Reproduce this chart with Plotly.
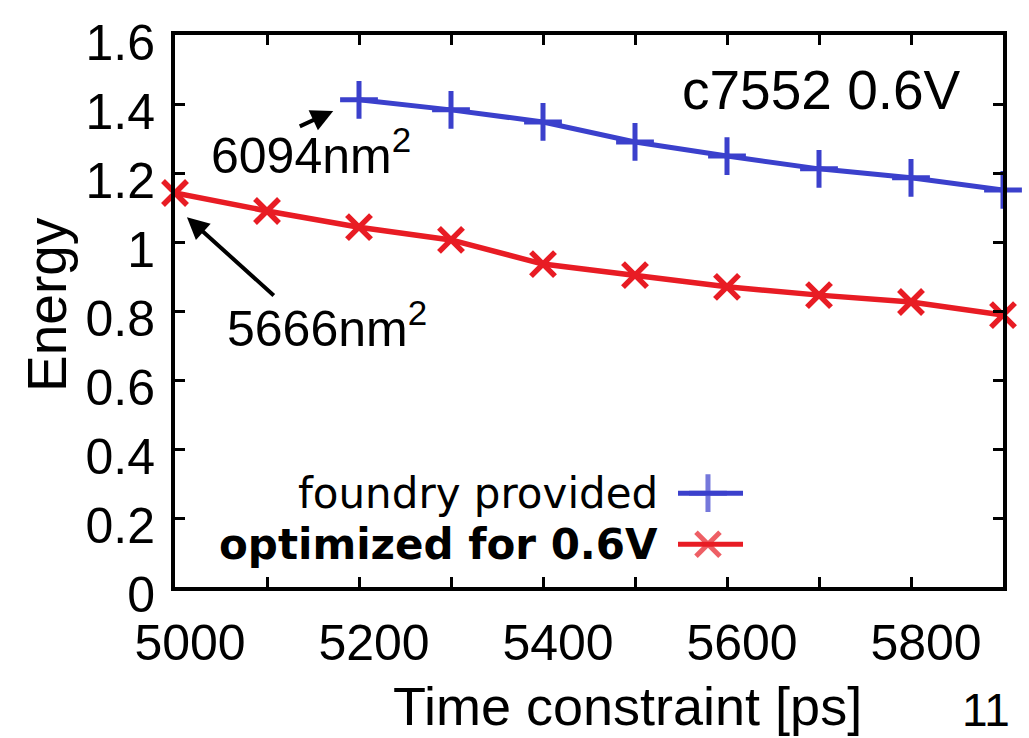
import plotly.graph_objects as go

# ---- data ----
time_foundry = [5200, 5300, 5400, 5500, 5600, 5700, 5800, 5900]
energy_foundry = [1.412, 1.383, 1.348, 1.290, 1.249, 1.212, 1.186, 1.151]
time_opt = [5000, 5100, 5200, 5300, 5400, 5500, 5600, 5700, 5800, 5900]
energy_opt = [1.142, 1.090, 1.043, 1.006, 0.936, 0.904, 0.870, 0.846, 0.826, 0.788]
series_names = ["foundry provided", "optimized for 0.6V"]
x_tickvals = [5000, 5100, 5200, 5300, 5400, 5500, 5600, 5700, 5800, 5900]
x_ticktext = ["5000", "", "5200", "", "5400", "", "5600", "", "5800", ""]
y_tickvals = [0, 0.2, 0.4, 0.6, 0.8, 1.0, 1.2, 1.4, 1.6]
y_ticktext = ["0", "0.2", "0.4", "0.6", "0.8", "1", "1.2", "1.4", "1.6"]
# annotation arrows: (head x, head y, tail x, tail y) and labels
area_labels = ["6094nm<sup>2</sup>", "5666nm<sup>2</sup>"]
arrow_heads = [(5172, 1.380), (5013, 1.072)]
arrow_tails = [(5134, 1.333), (5109, 0.841)]
label_pos = [(5037, 1.262), (5054, 0.759)]

BLUE = "#3b40cc"
RED = "#e81c24"
FONT = "Liberation Sans, Arial, sans-serif"
LEGFONT = "DejaVu Sans, Verdana, sans-serif"

fig = go.Figure()

fig.add_trace(go.Scatter(
    x=time_foundry, y=energy_foundry, mode="lines+markers", name=series_names[0],
    line=dict(color=BLUE, width=5),
    marker=dict(symbol="cross-thin", size=27, line=dict(color=BLUE, width=5)),
    cliponaxis=False, showlegend=False))
fig.add_trace(go.Scatter(
    x=time_opt, y=energy_opt, mode="lines+markers", name=series_names[1],
    line=dict(color=RED, width=5.5),
    marker=dict(symbol="x-thin", size=24, line=dict(color=RED, width=5.5)),
    cliponaxis=False, showlegend=False))

# legend samples on an auxiliary 0..1 axis pair
leg_x = [0.6075, 0.6437, 0.686]
for yy, col, sym, sz in [(0.170, BLUE, "cross-thin", 27), (0.0775, RED, "x-thin", 24)]:
    fig.add_trace(go.Scatter(
        x=leg_x, y=[yy] * 3, xaxis="x2", yaxis="y2", mode="lines+markers",
        line=dict(color=col, width=5),
        marker=dict(symbol=sym, size=[0, sz, 0], line=dict(color=col, width=5)),
        cliponaxis=False, showlegend=False, hoverinfo="skip"))

annotations = []
for txt, yy, bold in [(series_names[0], 0.170, False), (series_names[1], 0.0775, True)]:
    annotations.append(dict(
        x=0.5857, y=yy, xref="paper", yref="paper", xanchor="right", yanchor="middle",
        text=("<b>%s</b>" % txt) if bold else txt, showarrow=False,
        font=dict(family=LEGFONT, size=42, color="black")))

for (hx, hy), (tx, ty) in zip(arrow_heads, arrow_tails):
    annotations.append(dict(
        x=hx, y=hy, ax=tx, ay=ty, xref="x", yref="y", axref="x", ayref="y",
        text="", showarrow=True, arrowhead=2, arrowsize=1.1, arrowwidth=4,
        arrowcolor="black", standoff=0, startstandoff=0))
for txt, (lx, ly) in zip(area_labels, label_pos):
    annotations.append(dict(
        x=lx, y=ly, xref="x", yref="y", xanchor="left", yanchor="middle",
        text=txt, showarrow=False, font=dict(family=FONT, size=50, color="black")))

annotations.append(dict(
    x=0.952, y=0.900, xref="paper", yref="paper", xanchor="right", yanchor="middle",
    text="c7552 0.6V", showarrow=False, font=dict(family=FONT, size=55, color="black")))
annotations.append(dict(
    x=0.546, y=-0.215, xref="paper", yref="paper", xanchor="center", yanchor="middle",
    text="Time constraint [ps]", showarrow=False, font=dict(family=FONT, size=54, color="black")))
annotations.append(dict(
    x=-0.1546, y=0.5127, xref="paper", yref="paper", xanchor="center", yanchor="middle",
    text="Energy", textangle=-90, showarrow=False, font=dict(family=FONT, size=55, color="black")))
annotations.append(dict(
    x=0.98, y=-0.222, xref="paper", yref="paper", xanchor="center", yanchor="middle",
    text="11", showarrow=False, font=dict(family=FONT, size=46, color="black")))

axis_common = dict(
    showgrid=False, zeroline=False, showline=True, linecolor="black", linewidth=4,
    mirror="ticks", ticks="inside", ticklen=10, tickwidth=3, tickcolor="black",
    tickfont=dict(family=FONT, size=50, color="black"))

fig.update_layout(
    width=1029, height=738,
    margin=dict(l=175, r=26, t=35, b=151),
    paper_bgcolor="white", plot_bgcolor="white",
    xaxis=dict(range=[5000, 5900], tickmode="array", tickvals=x_tickvals,
               ticktext=x_ticktext, ticklabelstandoff=9, ticklabelshift=15, **axis_common),
    yaxis=dict(range=[0, 1.6], tickmode="array", tickvals=y_tickvals,
               ticktext=y_ticktext, ticklabelstandoff=6, ticklabelshift=7, **axis_common),
    xaxis2=dict(range=[0, 1], overlaying="x", visible=False),
    yaxis2=dict(range=[0, 1], overlaying="y", visible=False),
    annotations=annotations,
    showlegend=False,
)

fig.write_html("out.html")
